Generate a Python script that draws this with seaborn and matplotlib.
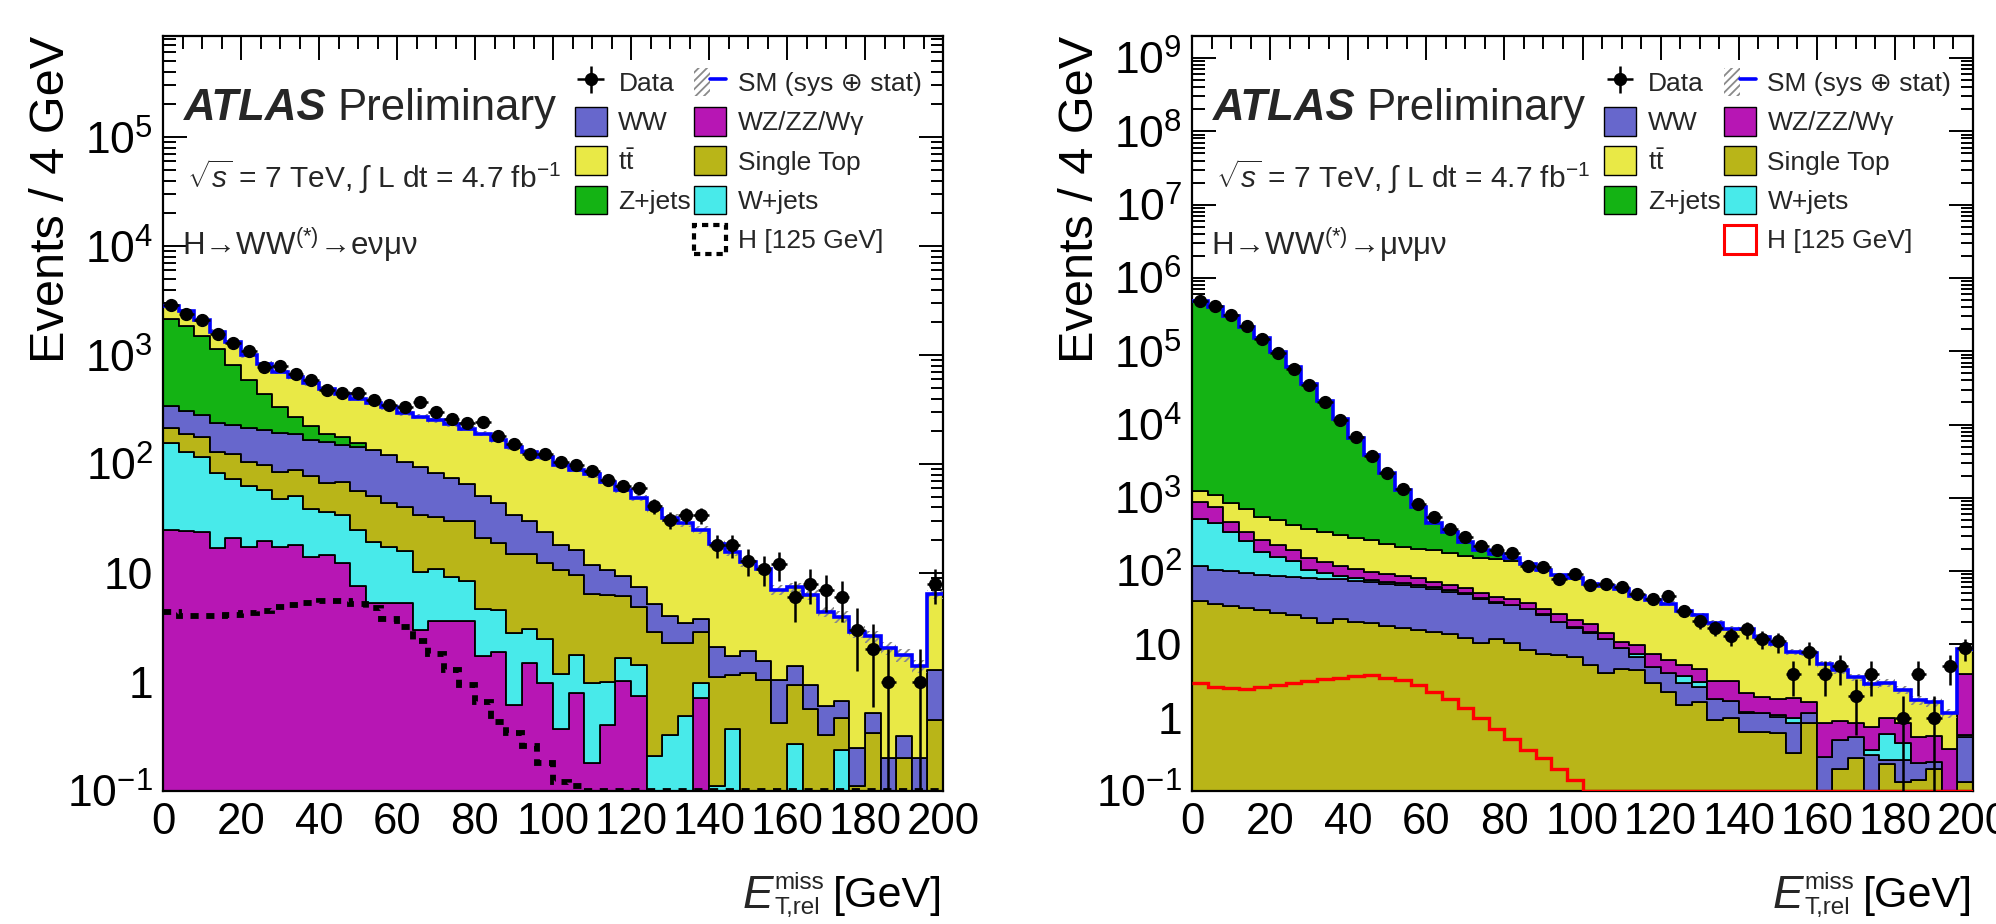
import numpy as np
import pandas as pd
import matplotlib
matplotlib.use("Agg")
import matplotlib.pyplot as plt
import seaborn as sns
from matplotlib.patches import Patch
from matplotlib.lines import Line2D
from matplotlib.legend_handler import HandlerTuple
from matplotlib.ticker import MultipleLocator, LogLocator, FuncFormatter, NullFormatter

# ---------------- data ----------------
bin_edges = list(range(0, 204, 4))  # 50 bins of 4 GeV

# e-mu channel (left)
emu_ww = [128, 117, 106, 110, 108, 107, 107, 106, 100, 91, 91, 80, 87, 83, 77, 65, 60, 50, 44, 36,
          30, 25.3, 19.1, 15.1, 11.6, 7.4, 6.7, 5.3, 4.4, 3.3, 2.6, 2.3, 1.74, 1.24, 0.9, 0.98, 0.57, 0.73, 0.53, 0.62,
          0.48, 0.37, 0.27, 0.20, 0.14, 0.18, 0.20, 0.12, 0.20, 0.85]
emu_tt = [640, 690, 620, 490, 505, 410, 393, 367, 352, 327, 306, 266, 245, 229, 209, 187, 178, 170, 159, 146,
          140, 122, 110, 100, 93, 80, 73, 69, 58, 49, 41.5, 33.8, 28, 25.5, 21.2, 16.5, 14, 10.6, 9.3, 6.0,
          6.0, 5.4, 3.8, 3.3, 2.65, 2.1, 1.85, 1.44, 1.2, 5.1]
emu_zjets = [1827, 1552, 1214, 910, 589, 378, 240, 145, 84, 55, 30, 29, 11, 2, 1, 0.5, 0, 0, 0, 0,
             0, 0, 0, 0, 0, 0, 0, 0, 0, 0, 0, 0, 0, 0, 0, 0, 0, 0, 0, 0,
             0, 0, 0, 0, 0, 0, 0, 0, 0, 0]
emu_stop = [60, 61, 63, 47, 49, 42, 40, 38, 37, 38, 31, 35, 32, 31.6, 26.6, 24, 23.7, 22, 20.7, 21.5,
            16.3, 14.1, 12.1, 11.8, 9.9, 9.4, 7.8, 5.5, 5.3, 4.5, 3.5, 2.7, 1.93, 1.77, 1.93, 1.01, 0.79, 1.21, 1.04, 0.42,
            0.66, 0.57, 0.33, 0.23, 0.11, 0.34, 0, 0.20, 0, 0.45]
emu_wjets = [130, 105, 92, 66, 53, 46, 38, 30, 33, 25, 21.4, 21.6, 17.4, 14.1, 12.1, 10.7, 7.3, 7.4, 5.7, 4.9,
             2.95, 2.7, 2.18, 1.6, 1.53, 0.82, 0.98, 0.81, 0.60, 0.64, 0.69, 0.21, 0.33, 0.49, 0.26, 0.11, 0.37, 0, 0, 0,
             0.27, 0, 0, 0.24, 0, 0, 0, 0, 0, 0]
emu_wz = [25, 24.5, 24, 17.1, 20.8, 17.4, 19.6, 17.4, 18.1, 14.1, 14.6, 12.4, 7.6, 5.3, 5.3, 5.3, 3.0, 3.6, 3.6, 3.6,
          1.75, 1.9, 0.62, 1.5, 0.97, 0.37, 0.79, 0.18, 0.40, 1.03, 0.74, 0, 0, 0, 0.71, 0, 0, 0, 0, 0,
          0, 0, 0, 0, 0, 0, 0, 0, 0, 0]
emu_data = [2880, 2410, 2120, 1550, 1300, 1090, 782, 793, 665, 598, 484, 451, 451, 386, 348, 331, 373, 302, 257, 240,
            245, 182, 153, 124, 125, 105, 98, 87, 71, 63, 60, 41, 31, 34, 34, 18, 18, 13, 11, 12,
            6, 8, 7, 6, 3, 2, 1, 0, 1, 8]
emu_higgs = [4.4, 4.0, 4.0, 4.0, 4.1, 4.3, 4.5, 4.9, 5.1, 5.3, 5.5, 5.5, 5.2, 4.8, 3.8, 3.2, 2.4, 1.8, 1.29, 0.94,
             0.66, 0.43, 0.34, 0.26, 0.18, 0.12, 0.11, 0.1, 0.1, 0.1, 0.1, 0.1, 0.1, 0.1, 0.1, 0.1, 0.1, 0.1, 0.1, 0.1,
             0.1, 0.1, 0.1, 0.1, 0.1, 0.1, 0.1, 0.1, 0.1, 0.1]

# mu-mu channel (right)
mumu_stop = [39, 36, 33.7, 31, 29.4, 26.8, 25.2, 23.2, 19.6, 21.9, 20, 19.6, 17.9, 16.5, 15.6, 14.7, 13.9, 12.4, 10.4, 11.7,
             10.4, 8.3, 7.4, 7.2, 6.7, 5.3, 4.1, 4.6, 4.47, 2.94, 2.26, 1.49, 1.65, 0.93, 0.98, 0.64, 0.64, 0.61, 0.33, 0.84,
             0, 0.197, 0.28, 0, 0.23, 0.134, 0.14, 0.20, 0, 0.134]
mumu_ww = [78, 69, 67.3, 64, 58.6, 58.7, 58.8, 57.8, 59.4, 55.1, 54, 50.4, 49.1, 47.5, 45.4, 42.3, 38.1, 35.6, 31.6, 25.3,
           23.6, 21.7, 17.6, 12.8, 10.3, 9.2, 7.7, 4.2, 2.18, 2.02, 1.76, 1.51, 1.0, 0.85, 0.73, 0.53, 0.51, 0.42, 0.51, 0.31,
           0.29, 0.30, 0.27, 0.31, 0.035, 0.13, 0.10, 0.05, 0, 0.42]
mumu_wjets = [405, 342, 243, 164, 96, 71.5, 52, 22, 16, 8, 6, 5, 4.5, 4, 3.5, 3, 2.5, 2, 1.5, 1.2,
              1.0, 0.8, 0.6, 0.3, 0.3, 0.2, 0.2, 0.1, 0.75, 0, 0, 0.7, 0.45, 0, 0, 0.04, 0, 0.06, 0.14, 0,
              0, 0, 0, 0.05, 0.335, 0.185, 0, 0, 0, 0.03]
mumu_wz = [359, 306, 127, 85, 81, 69, 56, 47, 38, 31, 27, 23, 19, 17, 15, 12, 10, 9, 7.5, 6.5,
           6, 5.5, 5, 5.5, 4.5, 4.4, 2.3, 2.0, 2.4, 2.4, 2.1, 1.5, 1.46, 1.39, 1.45, 0.99, 0.79, 0.70, 0.85, 0.51,
           0.57, 0.40, 0.29, 0.39, 0.38, 0.39, 0.31, 0.31, 0.38, 3.4]
mumu_tt = [364, 334, 384, 349, 286, 270, 235, 231, 207, 198, 180, 167, 146, 130, 124, 120, 110, 103, 99, 100,
           97, 89, 72, 62, 58, 47, 48, 47, 36, 33, 30, 23.3, 20.4, 16.5, 13.3, 13.8, 10.8, 8.5, 6.1, 6.0,
           4.5, 3.6, 2.76, 2.15, 2.0, 1.56, 1.19, 1.09, 0.77, 4.8]
mumu_zjets = [478800, 403900, 303100, 215300, 152400, 96500, 59600, 35600, 20500, 11400, 6310, 3570, 1920, 1045, 536, 261, 165, 85, 42, 26,
              12, 0, 0, 0, 0, 0, 0, 0, 0, 0, 0, 0, 0, 0, 0, 0, 0, 0, 0, 0,
              0, 0, 0, 0, 0, 0, 0, 0, 0, 0]
mumu_data = [480000, 414000, 315000, 221000, 148000, 94000, 58000, 34700, 20100, 11500, 6800, 3740, 2190, 1340, 820, 556, 373, 293, 223, 192,
             177, 119, 115, 78, 91, 65, 67, 60, 48, 41, 46, 29, 21, 17, 13, 16, 12, 11, 4, 8,
             4, 5, 2, 4, 0, 1, 4, 1, 5, 9]
mumu_higgs = [2.97, 2.6, 2.55, 2.5, 2.65, 2.8, 2.97, 3.15, 3.33, 3.53, 3.73, 3.82, 3.53, 3.22, 2.8, 2.23, 1.78, 1.37, 1.0, 0.71,
              0.51, 0.36, 0.28, 0.2, 0.14, 0.1, 0.1, 0.1, 0.1, 0.1, 0.1, 0.1, 0.1, 0.1, 0.1, 0.1, 0.1, 0.1, 0.1, 0.1,
              0.1, 0.1, 0.1, 0.1, 0.1, 0.1, 0.1, 0.1, 0.1, 0.1]

# relative SM uncertainty (sys + stat)
sm_rel_unc = [0.06, 0.05, 0.05, 0.05, 0.05, 0.05, 0.05, 0.05, 0.05, 0.05, 0.05, 0.05, 0.05, 0.05, 0.05, 0.05, 0.05, 0.05, 0.05, 0.05,
              0.05, 0.05, 0.06, 0.06, 0.06, 0.06, 0.06, 0.07, 0.07, 0.07, 0.07, 0.08, 0.08, 0.08, 0.08, 0.09, 0.09, 0.09, 0.10, 0.10,
              0.10, 0.11, 0.11, 0.12, 0.12, 0.13, 0.13, 0.14, 0.14, 0.10]

process_labels = {"WW": "WW", "tt": r"$\mathrm{t\bar{t}}$", "Z": "Z+jets", "WZ": "WZ/ZZ/Wγ",
                  "ST": "Single Top", "W": "W+jets"}
colors = {"WW": "#6767cc", "tt": "#e9e946", "Z": "#14b314", "WZ": "#b716b4",
          "ST": "#b9b518", "W": "#48eaea"}

# ---------------- style ----------------
sns.set_theme(style="ticks")
plt.rcParams["font.family"] = ["Liberation Sans", "DejaVu Sans"]
plt.rcParams["mathtext.fontset"] = "custom"
plt.rcParams["mathtext.rm"] = "Liberation Sans"
plt.rcParams["mathtext.it"] = "Liberation Sans:italic"
plt.rcParams["mathtext.bf"] = "Liberation Sans:bold"
plt.rcParams["hatch.linewidth"] = 1.3

fig = plt.figure(figsize=(19.96, 9.24), dpi=100)
ax_l = fig.add_axes([163 / 1996, 133 / 924, 780 / 1996, 755 / 924])
ax_r = fig.add_axes([1192 / 1996, 133 / 924, 781 / 1996, 755 / 924])


def log_fmt(v, pos):
    e = int(round(np.log10(v)))
    if e == 0:
        return "1"
    if e == 1:
        return "10"
    return r"$\mathregular{10^{%d}}$" % e


def draw_panel(ax, stack, data, higgs, higgs_kw, higgs_patch, ymax, channel):
    edges = np.array(bin_edges, dtype=float)
    centers = 0.5 * (edges[:-1] + edges[1:])
    keys = [k for k, _ in stack]  # top -> bottom
    df = pd.DataFrame({
        "met": np.tile(centers, len(stack)),
        "events": np.concatenate([np.asarray(v, dtype=float) for _, v in stack]),
        "process": np.repeat(keys, len(centers)),
    })
    sns.histplot(data=df, x="met", weights="events", hue="process", hue_order=keys,
                 palette={k: colors[k] for k in keys}, bins=len(bin_edges) - 1,
                 binrange=(bin_edges[0], bin_edges[-1]), multiple="stack",
                 element="step", fill=True, alpha=1.0, edgecolor="black", linewidth=1.3,
                 legend=False, ax=ax, zorder=2)
    total = np.sum([np.asarray(v, dtype=float) for _, v in stack], axis=0)
    unc = np.asarray(sm_rel_unc)
    ax.stairs(total * (1 + unc), edges, baseline=total * (1 - unc), fill=True,
              facecolor="none", edgecolor="#8a8a8a", hatch="////", linewidth=0, zorder=3)
    ax.stairs(total, edges, baseline=None, color="#0000ff", linewidth=2.6, zorder=4)
    ax.stairs(np.asarray(higgs, dtype=float), edges, baseline=None, zorder=5, **higgs_kw)

    d = np.asarray(data, dtype=float)
    m = d > 0
    half = 0.5 * (edges[1] - edges[0])
    eb = ax.errorbar(centers[m], d[m], xerr=half, yerr=np.sqrt(d[m]), fmt="o", color="black",
                     ms=8.5, elinewidth=1.8, capsize=0, zorder=6)

    ax.set_yscale("log")
    ax.set_ylim(0.1, ymax)
    ax.set_xlim(0, 200)

    ax.xaxis.set_major_locator(MultipleLocator(20))
    ax.xaxis.set_minor_locator(MultipleLocator(5))
    ax.yaxis.set_major_locator(LogLocator(base=10, numticks=30))
    ax.yaxis.set_minor_locator(LogLocator(base=10, subs=np.arange(2, 10), numticks=30))
    ax.yaxis.set_minor_formatter(NullFormatter())
    ax.yaxis.set_major_formatter(FuncFormatter(log_fmt))
    ax.tick_params(which="both", direction="in", top=True, right=True, width=1.4,
                   colors="black")
    ax.tick_params(which="major", length=17)
    ax.tick_params(axis="x", which="major", labelsize=31.5, pad=8)
    ax.tick_params(axis="y", which="major", labelsize=32, pad=7)
    ax.tick_params(which="minor", length=9)
    for s in ax.spines.values():
        s.set_color("black")
        s.set_linewidth(1.6)

    ax.set_ylabel("Events / 4 GeV", fontsize=35, loc="top", color="black")
    ax.yaxis.label.set_va("center")
    ax.yaxis.set_label_coords(-0.143, 1.0)

    # x title: E^{miss}_{T,rel} [GeV]
    ax.set_xlabel("[GeV]", fontsize=31, loc="right", color="black")
    ax.xaxis.label.set_va("center")
    ax.xaxis.set_label_coords(1.0, -0.139)
    e_txt = ax.annotate("E", xy=(0, 0.5), xycoords=ax.xaxis.label, xytext=(-43, 0),
                        textcoords="offset points", ha="right", va="center",
                        fontsize=33, fontstyle="italic")
    ax.annotate("miss", xy=(1, 0.5), xycoords=e_txt, xytext=(1, 9),
                textcoords="offset points", ha="left", va="center", fontsize=17.5)
    ax.annotate("T,rel", xy=(1, 0.5), xycoords=e_txt, xytext=(1, -9),
                textcoords="offset points", ha="left", va="center", fontsize=17.5)

    atlas = ax.text(0.027, 0.904, "ATLAS", transform=ax.transAxes, fontsize=31.5,
                    fontweight="bold", fontstyle="italic", va="center", ha="left")
    ax.annotate("Preliminary", xy=(1, 0.5), xycoords=atlas, xytext=(8, 0),
                textcoords="offset points", va="center", ha="left", fontsize=31.5)
    ax.text(0.031, 0.814, r"$\sqrt{s}$ = 7 TeV, $\int$ L dt = 4.7 fb$^{-1}$",
            transform=ax.transAxes, fontsize=21.5, va="center", ha="left")
    ax.text(0.024, 0.724, channel, transform=ax.transAxes, fontsize=22.5, va="center", ha="left")

    patch = {k: Patch(facecolor=colors[k], edgecolor="black", linewidth=1.0) for k in colors}
    sm_handle = (Patch(facecolor="none", edgecolor="#8a8a8a", hatch="////", linewidth=0),
                 Line2D([], [], color="#0000ff", linewidth=2.6))
    leg_kw = dict(loc="upper left", frameon=False, fontsize=19, handlelength=1.2,
                  handleheight=1.3, handletextpad=0.45, labelspacing=0.4,
                  borderpad=0, borderaxespad=0)
    leg1 = ax.legend(handles=[eb, patch["WW"], patch["tt"], patch["Z"]],
                     labels=["Data", process_labels["WW"], process_labels["tt"], process_labels["Z"]],
                     bbox_to_anchor=(0.528, 0.958), **leg_kw)
    ax.add_artist(leg1)
    ax.legend(handles=[sm_handle, patch["WZ"], patch["ST"], patch["W"], higgs_patch],
              labels=["SM (sys ⊕ stat)", process_labels["WZ"], process_labels["ST"],
                      process_labels["W"], "H [125 GeV]"],
              handler_map={tuple: HandlerTuple(ndivide=None, pad=0)},
              bbox_to_anchor=(0.681, 0.958), **leg_kw)


# left panel: stack order top -> bottom
draw_panel(ax_l,
           [("tt", emu_tt), ("Z", emu_zjets), ("WW", emu_ww), ("ST", emu_stop),
            ("W", emu_wjets), ("WZ", emu_wz)],
           emu_data, emu_higgs,
           dict(color="black", linewidth=4.2, linestyle=(0, (1.4, 1.3))),
           Patch(facecolor="white", edgecolor="black", linewidth=3, linestyle=(0, (1.5, 1.2))),
           8.5e5, "H→WW$^{(*)}$→eνμν")

draw_panel(ax_r,
           [("Z", mumu_zjets), ("tt", mumu_tt), ("WZ", mumu_wz), ("W", mumu_wjets),
            ("WW", mumu_ww), ("ST", mumu_stop)],
           mumu_data, mumu_higgs,
           dict(color="#ff0000", linewidth=2.4),
           Patch(facecolor="white", edgecolor="#ff0000", linewidth=2.2),
           2.0e9, "H→WW$^{(*)}$→μνμν")

fig.savefig("out.png", dpi=100, facecolor="white")
